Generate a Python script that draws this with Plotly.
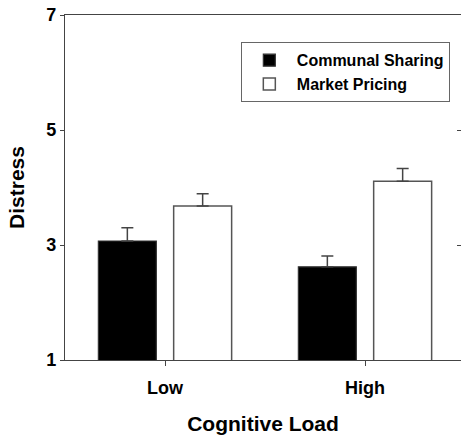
import plotly.graph_objects as go

categories = ["Low", "High"]
communal = [3.07, 2.62]
communal_err = [0.23, 0.19]
market = [3.68, 4.11]
market_err = [0.21, 0.22]
y_ticks = [1, 3, 5, 7]

FONT = "Liberation Sans, Arial, sans-serif"

fig = go.Figure()
fig.add_trace(go.Bar(
    name="Communal Sharing", x=categories, y=communal,
    marker=dict(color="black", line=dict(color="#333333", width=1.2)),
    error_y=dict(type="data", array=communal_err, arrayminus=[0, 0], symmetric=False,
                 color="#444444", thickness=1.5, width=6),
))
fig.add_trace(go.Bar(
    name="Market Pricing", x=categories, y=market,
    marker=dict(color="white", line=dict(color="#555555", width=1.5)),
    error_y=dict(type="data", array=market_err, arrayminus=[0, 0], symmetric=False,
                 color="#444444", thickness=1.5, width=6),
))
# invisible trace to host the right-side mirrored ticks axis
fig.add_trace(go.Scatter(x=categories, y=[None, None], yaxis="y2",
                         showlegend=False, hoverinfo="skip", mode="markers"))

fig.update_layout(
    width=461, height=436,
    margin=dict(l=65, r=0, t=15, b=76, autoexpand=False),
    paper_bgcolor="white", plot_bgcolor="white",
    barmode="group", bargap=0.247, bargroupgap=0.23,
    font=dict(family=FONT, color="black"),
    showlegend=True,
    legend=dict(x=0.444, y=0.921, xanchor="left", yanchor="top",
                bordercolor="#666666", borderwidth=1, bgcolor="white",
                font=dict(family=FONT, size=16, weight="bold"),
                itemwidth=45, tracegroupgap=4),
    xaxis=dict(
        type="category", range=[-0.5, 1.48], automargin=False,
        showline=True, linecolor="#444444", linewidth=1.2, mirror=True,
        ticks="outside", ticklen=5, tickcolor="#444444",
        tickfont=dict(family=FONT, size=18, weight="bold"),
        ticklabelstandoff=6,
        showgrid=False, zeroline=False,
        title=dict(text="Cognitive Load", standoff=19,
                   font=dict(family=FONT, size=21, weight="bold")),
    ),
    yaxis=dict(
        range=[1, 7], tickvals=y_ticks, automargin=False,
        showline=True, linecolor="#444444", linewidth=1.2,
        ticks="outside", ticklen=4, tickcolor="#444444",
        tickfont=dict(family=FONT, size=18, weight="bold"),
        showgrid=False, zeroline=False,
        title=dict(text="Distress", standoff=15,
                   font=dict(family=FONT, size=21, weight="bold")),
    ),
    yaxis2=dict(
        overlaying="y", side="right", range=[1, 7], tickvals=y_ticks,
        automargin=False,
        ticks="inside", ticklen=4, tickcolor="#444444",
        showticklabels=False, showline=False, showgrid=False, zeroline=False,
    ),
)

fig.write_html("out.html", config={"displayModeBar": False},
               post_script="document.body.style.margin='0';")
